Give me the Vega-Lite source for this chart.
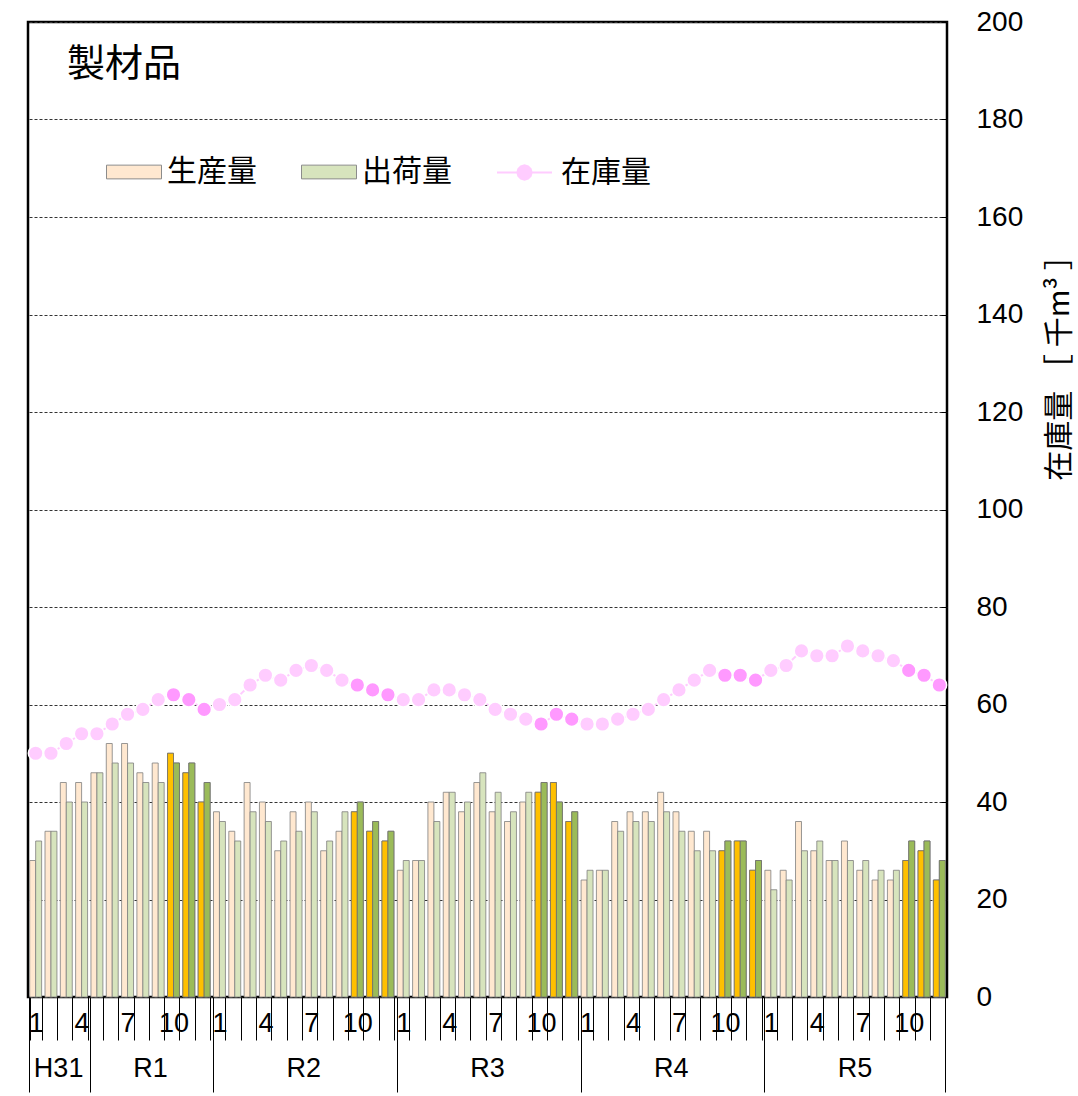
{
  "$schema": "https://vega.github.io/schema/vega-lite/v6.json",
  "width": 919,
  "height": 975,
  "autosize": {"type": "pad"},
  "padding": {"left": 25, "top": 8, "right": 6, "bottom": 0},
  "background": "white",
  "config": {
    "view": {"stroke": "black", "strokeWidth": 2.5},
    "font": "Liberation Sans"
  },
  "title": {
    "text": "製材品",
    "anchor": "start",
    "frame": "group",
    "orient": "top",
    "offset": -76,
    "dx": 39,
    "font": "Noto Sans CJK JP",
    "fontSize": 38,
    "fontWeight": "normal",
    "color": "black"
  },
  "data": {
    "values": [
      {"t": "2019-01", "m": 1, "prod": 28, "ship": 32, "inv": 50},
      {"t": "2019-02", "m": 2, "prod": 34, "ship": 34, "inv": 50},
      {"t": "2019-03", "m": 3, "prod": 44, "ship": 40, "inv": 52},
      {"t": "2019-04", "m": 4, "prod": 44, "ship": 40, "inv": 54},
      {"t": "2019-05", "m": 5, "prod": 46, "ship": 46, "inv": 54},
      {"t": "2019-06", "m": 6, "prod": 52, "ship": 48, "inv": 56},
      {"t": "2019-07", "m": 7, "prod": 52, "ship": 48, "inv": 58},
      {"t": "2019-08", "m": 8, "prod": 46, "ship": 44, "inv": 59},
      {"t": "2019-09", "m": 9, "prod": 48, "ship": 44, "inv": 61},
      {"t": "2019-10", "m": 10, "prod": 50, "ship": 48, "inv": 62},
      {"t": "2019-11", "m": 11, "prod": 46, "ship": 48, "inv": 61},
      {"t": "2019-12", "m": 12, "prod": 40, "ship": 44, "inv": 59},
      {"t": "2020-01", "m": 1, "prod": 38, "ship": 36, "inv": 60},
      {"t": "2020-02", "m": 2, "prod": 34, "ship": 32, "inv": 61},
      {"t": "2020-03", "m": 3, "prod": 44, "ship": 38, "inv": 64},
      {"t": "2020-04", "m": 4, "prod": 40, "ship": 36, "inv": 66},
      {"t": "2020-05", "m": 5, "prod": 30, "ship": 32, "inv": 65},
      {"t": "2020-06", "m": 6, "prod": 38, "ship": 34, "inv": 67},
      {"t": "2020-07", "m": 7, "prod": 40, "ship": 38, "inv": 68},
      {"t": "2020-08", "m": 8, "prod": 30, "ship": 32, "inv": 67},
      {"t": "2020-09", "m": 9, "prod": 34, "ship": 38, "inv": 65},
      {"t": "2020-10", "m": 10, "prod": 38, "ship": 40, "inv": 64},
      {"t": "2020-11", "m": 11, "prod": 34, "ship": 36, "inv": 63},
      {"t": "2020-12", "m": 12, "prod": 32, "ship": 34, "inv": 62},
      {"t": "2021-01", "m": 1, "prod": 26, "ship": 28, "inv": 61},
      {"t": "2021-02", "m": 2, "prod": 28, "ship": 28, "inv": 61},
      {"t": "2021-03", "m": 3, "prod": 40, "ship": 36, "inv": 63},
      {"t": "2021-04", "m": 4, "prod": 42, "ship": 42, "inv": 63},
      {"t": "2021-05", "m": 5, "prod": 38, "ship": 40, "inv": 62},
      {"t": "2021-06", "m": 6, "prod": 44, "ship": 46, "inv": 61},
      {"t": "2021-07", "m": 7, "prod": 38, "ship": 42, "inv": 59},
      {"t": "2021-08", "m": 8, "prod": 36, "ship": 38, "inv": 58},
      {"t": "2021-09", "m": 9, "prod": 40, "ship": 42, "inv": 57},
      {"t": "2021-10", "m": 10, "prod": 42, "ship": 44, "inv": 56},
      {"t": "2021-11", "m": 11, "prod": 44, "ship": 40, "inv": 58},
      {"t": "2021-12", "m": 12, "prod": 36, "ship": 38, "inv": 57},
      {"t": "2022-01", "m": 1, "prod": 24, "ship": 26, "inv": 56},
      {"t": "2022-02", "m": 2, "prod": 26, "ship": 26, "inv": 56},
      {"t": "2022-03", "m": 3, "prod": 36, "ship": 34, "inv": 57},
      {"t": "2022-04", "m": 4, "prod": 38, "ship": 36, "inv": 58},
      {"t": "2022-05", "m": 5, "prod": 38, "ship": 36, "inv": 59},
      {"t": "2022-06", "m": 6, "prod": 42, "ship": 38, "inv": 61},
      {"t": "2022-07", "m": 7, "prod": 38, "ship": 34, "inv": 63},
      {"t": "2022-08", "m": 8, "prod": 34, "ship": 30, "inv": 65},
      {"t": "2022-09", "m": 9, "prod": 34, "ship": 30, "inv": 67},
      {"t": "2022-10", "m": 10, "prod": 30, "ship": 32, "inv": 66},
      {"t": "2022-11", "m": 11, "prod": 32, "ship": 32, "inv": 66},
      {"t": "2022-12", "m": 12, "prod": 26, "ship": 28, "inv": 65},
      {"t": "2023-01", "m": 1, "prod": 26, "ship": 22, "inv": 67},
      {"t": "2023-02", "m": 2, "prod": 26, "ship": 24, "inv": 68},
      {"t": "2023-03", "m": 3, "prod": 36, "ship": 30, "inv": 71},
      {"t": "2023-04", "m": 4, "prod": 30, "ship": 32, "inv": 70},
      {"t": "2023-05", "m": 5, "prod": 28, "ship": 28, "inv": 70},
      {"t": "2023-06", "m": 6, "prod": 32, "ship": 28, "inv": 72},
      {"t": "2023-07", "m": 7, "prod": 26, "ship": 28, "inv": 71},
      {"t": "2023-08", "m": 8, "prod": 24, "ship": 26, "inv": 70},
      {"t": "2023-09", "m": 9, "prod": 24, "ship": 26, "inv": 69},
      {"t": "2023-10", "m": 10, "prod": 28, "ship": 32, "inv": 67},
      {"t": "2023-11", "m": 11, "prod": 30, "ship": 32, "inv": 66},
      {"t": "2023-12", "m": 12, "prod": 24, "ship": 28, "inv": 64}
    ]
  },
  "layer": [
    {
      "transform": [{"fold": ["prod", "ship"], "as": ["series", "value"]}],
      "mark": {"type": "bar", "stroke": "#7f7f7f", "strokeWidth": 0.8},
      "encoding": {
        "x": {
          "field": "t",
          "type": "ordinal",
          "scale": {"paddingInner": 0.22, "paddingOuter": 0.11},
          "axis": {
            "orient": "bottom",
            "title": null,
            "domain": false,
            "grid": false,
            "tickBand": "extent",
            "tickSize": 43,
            "tickColor": "black",
            "tickWidth": 1,
            "labelExpr": "indexof(['01','04','07','10'], slice('' + datum.label, 5)) >= 0 ? '' + toNumber(slice('' + datum.label, 5)) : ''",
            "labelPadding": -30,
            "labelBaseline": "top",
            "labelFontSize": 27,
            "labelColor": "black",
            "labelAngle": 0,
            "labelOverlap": false,
            "labelBound": false,
            "labelFlush": false
          }
        },
        "xOffset": {
          "field": "series",
          "type": "nominal",
          "scale": {"domain": ["prod", "ship"], "paddingInner": 0, "paddingOuter": 0}
        },
        "y": {
          "field": "value",
          "type": "quantitative",
          "scale": {"domain": [0, 200], "nice": false},
          "axis": {
            "orient": "right",
            "title": "在庫量 ［ 千m³ ］",
            "values": [0, 20, 40, 60, 80, 100, 120, 140, 160, 180, 200],
            "grid": true,
            "gridDash": [3, 2],
            "gridColor": "#333333",
            "gridWidth": 1,
            "domain": false,
            "ticks": true,
            "tickSize": -6,
            "tickColor": "black",
            "labelPadding": 35,
            "labelAlign": "left",
            "labelFontSize": 28,
            "labelColor": "black",
            "labelFlush": false,
            "labelOverlap": false,
            "titleFont": "Noto Sans CJK JP",
            "titleFontSize": 30,
            "titleFontWeight": "normal",
            "titleColor": "black",
            "titleAngle": -90,
            "titleX": 112,
            "titleY": 338,
            "titleAlign": "center",
            "titleBaseline": "middle"
          }
        },
        "fill": {
          "field": "series",
          "type": "nominal",
          "scale": {"domain": ["prod", "ship"], "range": ["#FFE8D0", "#D7E4BD"]},
          "legend": {
            "orient": "none",
            "legendX": 78,
            "legendY": 122,
            "direction": "horizontal",
            "title": null,
            "padding": 0,
            "labelExpr": "datum.label == 'prod' ? '生産量' : '出荷量'",
            "symbolType": "M-1,-0.25H1V0.25H-1Z",
            "symbolSize": 3025,
            "symbolStrokeColor": "#8c8c8c",
            "symbolStrokeWidth": 1,
            "symbolOpacity": 1,
            "labelFont": "Noto Sans CJK JP",
            "labelFontSize": 30,
            "labelColor": "black",
            "labelOffset": 5,
            "columnPadding": 42
          }
        }
      }
    },
    {
      "transform": [
        {"filter": "datum.m >= 10"},
        {"fold": ["prod", "ship"], "as": ["series", "value"]}
      ],
      "mark": {"type": "bar", "stroke": "#6f6f6f", "strokeWidth": 0.8},
      "encoding": {
        "x": {
          "field": "t",
          "type": "ordinal",
          "axis": {
            "orient": "bottom",
            "title": null,
            "domain": false,
            "grid": false,
            "values": ["2019-01", "2019-05", "2020-01", "2021-01", "2022-01", "2023-01"],
            "bandPosition": 0,
            "tickSize": 95,
            "tickWidth": 1,
            "tickColor": "black",
            "labels": false
          }
        },
        "xOffset": {"field": "series", "type": "nominal"},
        "y": {"field": "value", "type": "quantitative"},
        "fill": {
          "condition": {"test": "datum.series == 'prod'", "value": "#FFC000"},
          "value": "#9BBB59"
        }
      }
    },
    {
      "mark": {"type": "line", "strokeWidth": 2},
      "encoding": {
        "x": {
          "field": "t",
          "type": "ordinal",
          "axis": {
            "orient": "bottom",
            "title": null,
            "domain": false,
            "grid": false,
            "values": ["2023-12"],
            "bandPosition": 1,
            "tickSize": 95,
            "tickWidth": 1,
            "tickColor": "black",
            "labels": false
          }
        },
        "y": {"field": "inv", "type": "quantitative"},
        "stroke": {
          "datum": "inv",
          "type": "nominal",
          "scale": {"domain": ["inv"], "range": ["#FFCCFF"]},
          "legend": {
            "orient": "none",
            "legendX": 468,
            "legendY": 122,
            "title": null,
            "padding": 0,
            "labelExpr": "'在庫量'",
            "symbolType": "M-1,0H-0.26M0.26,0H1M0.26,0L0.225,0.13L0.13,0.225L0,0.26L-0.13,0.225L-0.225,0.13L-0.26,0L-0.225,-0.13L-0.13,-0.225L0,-0.26L0.13,-0.225L0.225,-0.13Z",
            "symbolSize": 3025,
            "symbolFillColor": "#FFCCFF",
            "symbolStrokeWidth": 2,
            "labelFont": "Noto Sans CJK JP",
            "labelFontSize": 30,
            "labelColor": "black",
            "labelOffset": 8
          }
        }
      }
    },
    {
      "mark": {"type": "circle", "size": 215, "opacity": 1, "stroke": "white", "strokeWidth": 1.5},
      "encoding": {
        "x": {
          "field": "t",
          "type": "ordinal",
          "axis": {
            "orient": "bottom",
            "title": null,
            "domain": false,
            "grid": false,
            "ticks": false,
            "tickSize": 0,
            "values": ["2019-03", "2019-09", "2020-07", "2021-07", "2022-07", "2023-07"],
            "labelExpr": "datum.value == '2019-03' ? 'H31' : datum.value == '2019-09' ? 'R1' : datum.value == '2020-07' ? 'R2' : datum.value == '2021-07' ? 'R3' : datum.value == '2022-07' ? 'R4' : 'R5'",
            "labelOffset": -7.66,
            "labelPadding": 58,
            "labelBaseline": "top",
            "labelFontSize": 27,
            "labelColor": "black",
            "labelAngle": 0,
            "labelOverlap": false,
            "labelBound": false,
            "labelFlush": false
          }
        },
        "y": {"field": "inv", "type": "quantitative"},
        "fill": {
          "condition": {"test": "datum.m >= 10", "value": "#FF99FF"},
          "value": "#FFCCFF"
        }
      }
    }
  ],
  "resolve": {"axis": {"x": "independent"}}
}
